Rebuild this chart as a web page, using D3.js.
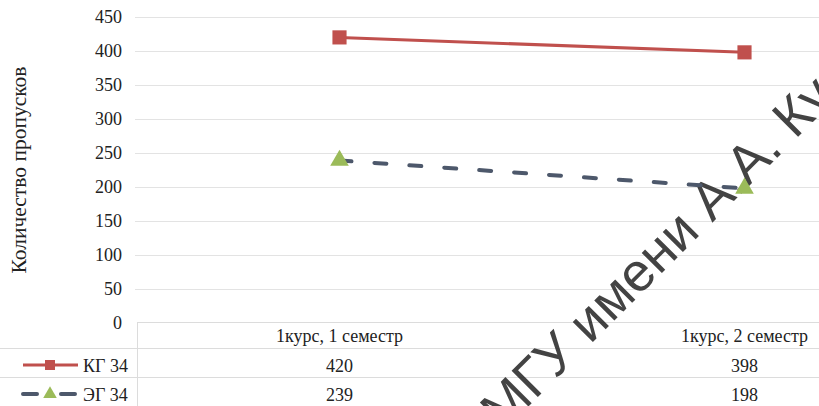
<html>
<head>
<meta charset="utf-8">
<script src="https://cdnjs.cloudflare.com/ajax/libs/d3/7.8.5/d3.min.js"></script>
<style>
body { margin: 0; background: #fff; }
svg { display: block; }
.grid line { stroke: #e3e3e3; stroke-width: 1; }
.tbl line { stroke: #dcdcdc; stroke-width: 1; }
text { font-family: "Liberation Serif", "Times New Roman", serif; fill: #222; }
</style>
</head>
<body>
<div class="target"></div>
<script>
var categories = ["1курс, 1 семестр", "1курс, 2 семестр"];
var seriesNames = ["КГ 34", "ЭГ 34"];
var kg34 = [420, 398];
var eg34 = [239, 198];
var yTicks = [0, 50, 100, 150, 200, 250, 300, 350, 400, 450];

var width = 819, height = 406;
var svg = d3.select(".target").append("svg")
  .attr("width", width).attr("height", height);

var x = d3.scaleBand().domain(categories).range([137, 947]);
var y = d3.scaleLinear().domain([0, 450]).range([323, 17]);
var cx = function(c) { return x(c) + x.bandwidth() / 2; };

// gridlines
svg.append("g").attr("class", "grid")
  .selectAll("line").data(yTicks.filter(function(d) { return d > 0; }))
  .enter().append("line")
    .attr("x1", 135).attr("x2", width)
    .attr("y1", function(d) { return Math.round(y(d)) + 0.5; })
    .attr("y2", function(d) { return Math.round(y(d)) + 0.5; });

// y axis labels
var yAxis = svg.append("g")
  .attr("transform", "translate(122,0)")
  .call(d3.axisLeft(y).tickValues(yTicks).tickSize(0).tickPadding(0));
yAxis.select(".domain").remove();
yAxis.selectAll("text")
  .style("font-family", "'Liberation Serif', serif")
  .style("font-size", "18px").attr("fill", "#333");

// axis title
svg.append("text")
  .attr("transform", "translate(26,170) rotate(-90)")
  .attr("text-anchor", "middle")
  .style("font-size", "21.5px")
  .attr("fill", "#333")
  .text("Количество пропусков");

// data table lines
var tbl = svg.append("g").attr("class", "tbl");
tbl.append("line").attr("x1", 137).attr("x2", width).attr("y1", 322.5).attr("y2", 322.5);
tbl.append("line").attr("x1", 0).attr("x2", width).attr("y1", 348.5).attr("y2", 348.5);
tbl.append("line").attr("x1", 0).attr("x2", width).attr("y1", 377.5).attr("y2", 377.5);
tbl.append("line").attr("x1", 137.5).attr("x2", 137.5).attr("y1", 322).attr("y2", height);

// watermark
svg.append("text")
  .attr("transform", "translate(503,432) rotate(-45)")
  .style("font-family", "'Liberation Sans', Arial, sans-serif")
  .style("font-size", "54px")
  .attr("fill", "#a6a6a6")
  .attr("fill-opacity", 0.85)
  .text("МГУ имени А.А. Кулешова");

// category labels
svg.append("g").selectAll("text").data(categories).enter().append("text")
  .attr("x", function(d) { return cx(d); })
  .attr("y", 342)
  .attr("text-anchor", "middle")
  .style("font-size", "18px")
  .text(function(d) { return d; });

var series = [
  { name: seriesNames[0], values: kg34, color: "#C0504D", marker: "square", dash: null, width: 3, rowY: 372 },
  { name: seriesNames[1], values: eg34, color: "#4D586B", marker: "triangle", dash: "12,23", width: 4, rowY: 401 }
];

var line = d3.line()
  .x(function(d, i) { return cx(categories[i]); })
  .y(function(d) { return y(d); });

series.forEach(function(s) {
  svg.append("path")
    .datum(s.values)
    .attr("d", line)
    .attr("fill", "none")
    .attr("stroke", s.color)
    .attr("stroke-width", s.width)
    .attr("stroke-linecap", s.dash ? "round" : "butt")
    .attr("stroke-dasharray", s.dash);

  var sym = s.marker === "square" ? d3.symbolSquare : d3.symbolTriangle;
  var fill = s.marker === "square" ? "#C0504D" : "#9BBB59";
  svg.append("g").selectAll("path").data(s.values).enter().append("path")
    .attr("transform", function(d, i) { return "translate(" + cx(categories[i]) + "," + y(d) + ")"; })
    .attr("d", d3.symbol().type(sym).size(s.marker === "square" ? 200 : 150))
    .attr("fill", fill);

  // table row values
  svg.append("g").selectAll("text").data(s.values).enter().append("text")
    .attr("x", function(d, i) { return cx(categories[i]); })
    .attr("y", s.rowY)
    .attr("text-anchor", "middle")
    .style("font-size", "18px")
    .text(function(d) { return d; });

  // legend key
  var ly = s.rowY - 7;
  svg.append("line")
    .attr("x1", 23).attr("x2", 78).attr("y1", ly).attr("y2", ly)
    .attr("stroke", s.color).attr("stroke-width", s.width)
    .attr("stroke-linecap", s.dash ? "round" : "butt")
    .attr("stroke-dasharray", s.dash ? "14,24" : null);
  svg.append("path")
    .attr("transform", "translate(50," + ly + ")")
    .attr("d", d3.symbol().type(sym).size(s.marker === "square" ? 100 : 80))
    .attr("fill", fill);
  svg.append("text")
    .attr("x", 83).attr("y", s.rowY)
    .style("font-size", "18px")
    .text(s.name);
});
</script>
</body>
</html>
